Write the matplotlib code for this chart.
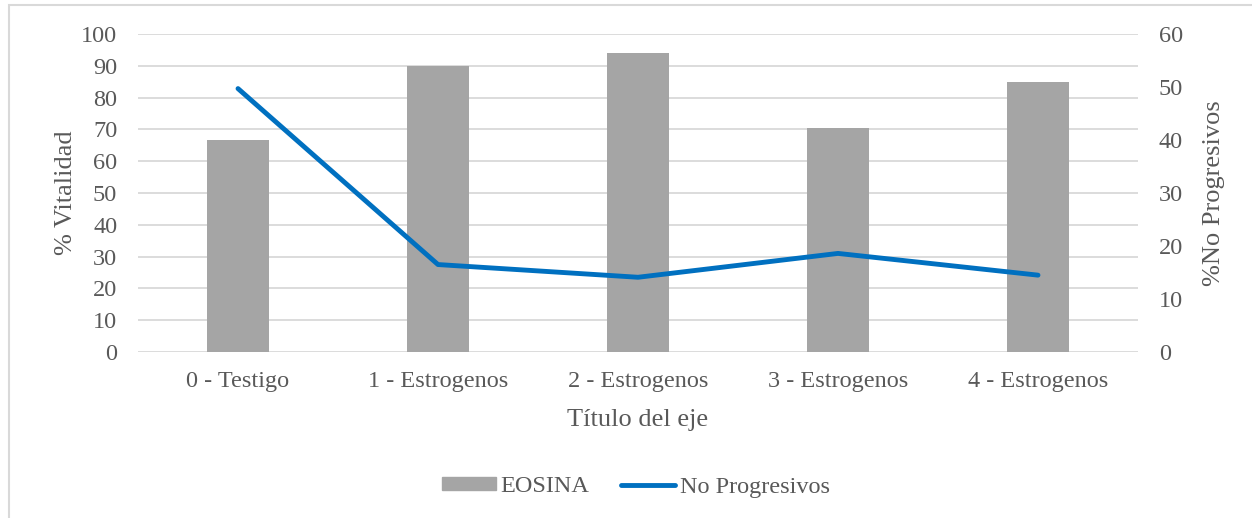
import numpy as np
import matplotlib.pyplot as plt
from matplotlib.patches import Rectangle
from matplotlib.lines import Line2D

categorias = ['0 - Testigo', '1 - Estrogenos', '2 - Estrogenos', '3 - Estrogenos', '4 - Estrogenos']
eosina = [66.7, 90.0, 94.1, 70.5, 85.0]
no_progresivos = [49.7, 16.5, 14.1, 18.6, 14.5]

gris_txt = '#595959'
plt.rcParams['font.family'] = ['Liberation Serif', 'DejaVu Serif']

fig = plt.figure(figsize=(12.52, 5.18), dpi=100)
W, H = 1252, 518
ax = fig.add_axes([138/W, 1-352/H, 1000/W, 318/H])
ax2 = ax.twinx()

x = np.arange(len(categorias))
ax.bar(x, eosina, width=0.31, color='#a5a5a5', zorder=2)
ax2.plot(x, no_progresivos, color='#0070c0', lw=3.5, solid_capstyle='round',
         solid_joinstyle='round', zorder=3)

ax.set_xlim(-0.5, 4.5)
ax.set_ylim(0, 100)
ax.set_yticks(range(0, 101, 10))
ax2.set_ylim(0, 60)
ax2.set_yticks(range(0, 61, 10))
ax.set_xticks(x)
ax.set_xticklabels(categorias)

ax.yaxis.grid(True, color='#d9d9d9', lw=1.3, zorder=0)
ax.set_axisbelow(True)
for a in (ax, ax2):
    for s in a.spines.values():
        s.set_visible(False)
    a.tick_params(length=0, labelsize=17.5, labelcolor=gris_txt)
ax.tick_params(axis='y', pad=15)
ax2.tick_params(axis='y', pad=15)
ax.tick_params(axis='x', pad=14)

ax.set_xlabel('Título del eje', fontsize=19, color=gris_txt, labelpad=12)
ax.set_ylabel('% Vitalidad', fontsize=19, color=gris_txt, labelpad=3)
ax2.set_ylabel('%No Progresivos', fontsize=19, color=gris_txt, labelpad=14)

handles = [Rectangle((0, 0), 1, 1, color='#a5a5a5'),
           Line2D([0], [0], color='#0070c0', lw=3.5, solid_capstyle='round')]
fig.legend(handles, ['EOSINA', 'No Progresivos'], loc='center',
           bbox_to_anchor=(636/W, 1-487/H), ncol=2, frameon=False,
           fontsize=17.5, labelcolor=gris_txt, handlelength=2.2,
           handletextpad=0.2, columnspacing=1.3, handleheight=0.45)

fig.patches.append(Rectangle((9/W, -0.1), 2, 1.1 - 5/H, transform=fig.transFigure,
                             fill=False, edgecolor='#d9d9d9', lw=1.5))

fig.savefig('out.png', dpi=100)
